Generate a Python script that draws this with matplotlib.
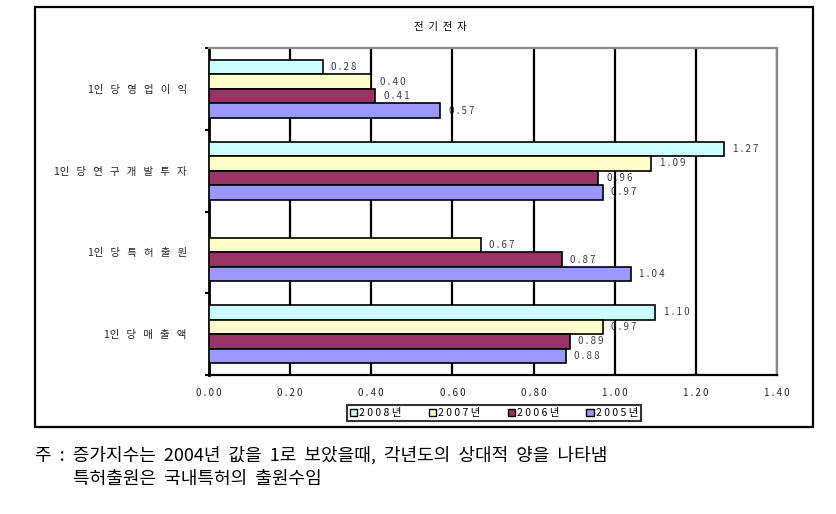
import numpy as np
import matplotlib.pyplot as plt
from matplotlib.patches import Rectangle, Patch

plt.rcParams['font.family'] = ['Noto Sans CJK KR', 'DejaVu Sans']

# data (top to bottom)
categories = ['1인당영업이익', '1인당연구개발투자', '1인당특허출원', '1인당매출액']
years = ['2008년', '2007년', '2006년', '2005년']
v2008 = [0.28, 1.27, np.nan, 1.10]
v2007 = [0.40, 1.09, 0.67, 0.97]
v2006 = [0.41, 0.96, 0.87, 0.89]
v2005 = [0.57, 0.97, 1.04, 0.88]
series = [v2008, v2007, v2006, v2005]
colors = ['#CCFFFF', '#FFFFCC', '#993366', '#9999FF']
xticks = [0.0, 0.2, 0.4, 0.6, 0.8, 1.0, 1.2, 1.4]


def spaced(s, gap=' '):
    return gap.join(s)


def spaced_kr(s):
    # '1인' stays together, other glyphs spread out
    return s[:2] + '   ' + '   '.join(s[2:])


fig = plt.figure(figsize=(8.36, 5.14), dpi=100)
ax = fig.add_axes([209 / 836, 1 - 375 / 514, 568 / 836, 327 / 514])

y = np.arange(len(categories))
h = 0.178
for i, (vals, c) in enumerate(zip(series, colors)):
    off = (i - 1.5) * h
    for j, v in enumerate(vals):
        if np.isnan(v):
            continue
        ax.barh(y[j] + off, v, height=h, color=c, edgecolor='black',
                linewidth=1.2, zorder=3)
        ax.annotate(spaced(f'{v:.2f}'), (v, y[j] + off), xytext=(6, 0),
                    textcoords='offset points', va='center', ha='left',
                    fontsize=7, color='#3a3a50', zorder=1)

ax.set_xlim(0, 1.4)
ax.set_ylim(3.5, -0.5)
ax.set_xticks(xticks)
ax.set_xticklabels([spaced(f'{t:.2f}') for t in xticks], fontsize=7, color='#222222')
ax.tick_params(axis='x', length=0, pad=9)
ax.set_yticks(y)
ax.set_yticklabels([spaced_kr(c) for c in categories], fontsize=7.5, color='#222222')
ax.tick_params(axis='y', which='major', length=0, pad=16)
ax.set_yticks(np.arange(-0.5, 4.0, 1.0), minor=True)
ax.tick_params(axis='y', which='minor', length=3, width=1.5, color='black')
ax.xaxis.grid(True, color='black', linewidth=1.6)
for gl in ax.get_xgridlines():
    gl.set_zorder(2)

ax.spines['left'].set_linewidth(2)
ax.spines['bottom'].set_linewidth(1.6)
ax.spines['top'].set_color('#888888')
ax.spines['right'].set_color('#888888')
ax.spines['top'].set_linewidth(1.6)
ax.spines['right'].set_linewidth(1.6)

fig.text(440 / 836, 1 - 27 / 514, spaced('전기전자', '  '), fontsize=7.5, ha='center', va='center')

handles = [Patch(facecolor=c, edgecolor='black', linewidth=1) for c in colors]
leg = fig.legend(handles, [spaced(s) for s in years], loc='center',
                 bbox_to_anchor=(494 / 836, 1 - 413 / 514),
                 ncol=4, fontsize=7.5, frameon=True, fancybox=False, handlelength=0.7,
                 handleheight=0.7, handletextpad=0.2, columnspacing=2.6,
                 borderpad=0.3, edgecolor='black')
leg.get_frame().set_linewidth(1.5)

# outer chart frame
fig.patches.append(Rectangle((35 / 836, 1 - 427 / 514), 778 / 836, 420 / 514,
                             transform=fig.transFigure, fill=False,
                             edgecolor='black', linewidth=1.6))

fig.text(35 / 836, 1 - 455 / 514,
         '주  :  증가지수는  2004년  값을  1로  보았을때,  각년도의  상대적  양을  나타냄',
         fontsize=13, ha='left', va='center')
fig.text(73 / 836, 1 - 479 / 514, '특허출원은  국내특허의  출원수임',
         fontsize=13, ha='left', va='center')

fig.savefig('out.png', dpi=100)
